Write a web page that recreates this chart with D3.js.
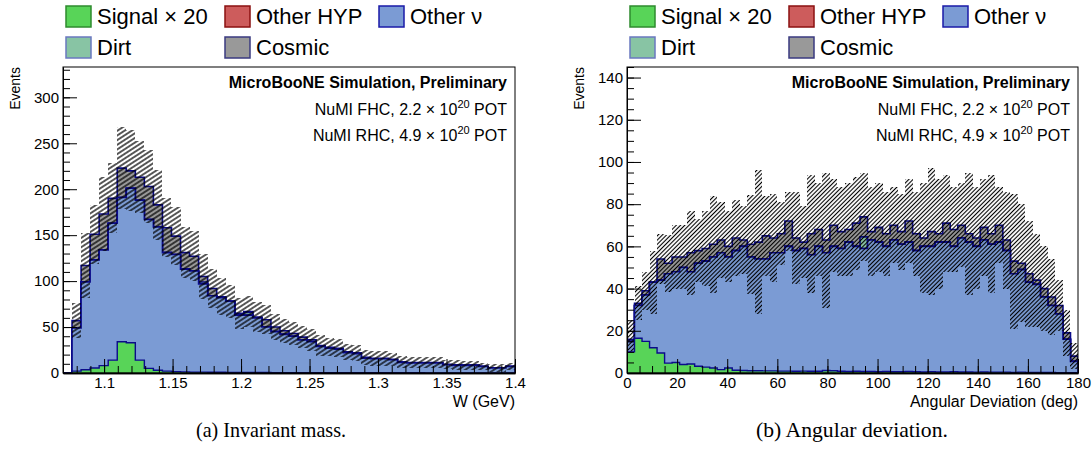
<!DOCTYPE html>
<html>
<head>
<meta charset="utf-8">
<script src="https://cdn.jsdelivr.net/npm/d3@7"></script>
<style>
  body { margin: 0; background: #fff; }
  svg { display: block; }
  text { font-family: "Liberation Sans", Arial, Helvetica, sans-serif; fill: #000; }
</style>
</head>
<body>
<svg id="chart" width="1092" height="454"></svg>
<script>
// ---------- data ----------
// (a) invariant mass W, 50 bins from 1.07 to 1.40 GeV
const wRange = [1.07, 1.4];
const wSignalX20 = [0, 2, 3.5, 5.5, 8, 14, 34, 33, 14, 5, 3, 2, 1.5, 1.2, 1, 1, 0.8, 0.8, 0.7, 0.6, 0.6, 0.5, 0.5, 0.4, 0.4, 0.3, 0.3, 0.3, 0.3, 0.3, 0.2, 0.2, 0.2, 0.2, 0.2, 0.2, 0.2, 0.2, 0.2, 0.2, 0.1, 0.1, 0.1, 0.1, 0.1, 0.1, 0.1, 0.1, 0.1, 0.1];
const wOtherNu = [0, 49, 99, 123, 134, 163, 191, 201, 188, 167, 159, 131, 129, 113, 111, 97, 84, 82, 78, 63, 63, 60, 50, 45, 42, 40, 36, 34, 29, 27, 26, 22, 21, 16, 15.5, 15.5, 14.5, 11.6, 11, 11, 11, 11, 9, 8.3, 8.3, 8.3, 7, 5.4, 5.4, 7];
const wOtherHyp = [0, 0, 0, 0, 0, 0, 0, 0, 0, 0, 0, 0, 0, 0, 0, 0, 0, 0, 0, 0, 0, 0, 0, 0, 0, 0, 0, 0, 0, 0, 0, 0, 0, 0, 0, 0, 0, 0, 0, 0, 0, 0, 0, 0, 0, 0, 0, 0, 0, 0];
const wDirt = [0, 0, 0, 0, 0, 0, 0, 0, 0, 0, 0, 0, 0, 0, 0, 2, 0, 0, 0, 0, 3, 0, 0, 0, 0, 0, 0, 0, 0, 0, 0, 0, 0, 0, 0, 0, 0, 0, 0, 0, 0, 0, 0, 0, 0, 0, 0, 0, 0, 0];
const wCosmic = [0, 8, 18, 28, 39, 27, 32, 19, 25, 36, 24, 27, 20, 18, 16, 6, 8, 1, 0, 2, 1, 1, 8, 5, 4, 3, 3, 2, 1, 1, 1, 1, 1, 1, 0.5, 0.5, 0.5, 0.4, 0.5, 0.5, 0.5, 0.5, 0.5, 0.5, 0.3, 0.3, 0.3, 0.2, 0.2, 0.2];
const wErr = [0, 19, 35, 32, 40, 38, 45, 44, 39, 40, 38, 32, 32, 28, 27, 24, 21, 20, 18, 17, 17, 16, 16, 14, 13, 13, 12, 12, 11, 10, 10, 9, 9, 8, 8, 8, 7, 7, 6, 6, 6, 6, 5, 5, 5, 5, 4, 4, 4, 4];
const wTicksX = [1.1, 1.15, 1.2, 1.25, 1.3, 1.35, 1.4];
const wTicksY = [0, 50, 100, 150, 200, 250, 300];

// (b) angular deviation, 60 bins from 0 to 180 deg
const aRange = [0, 180];
const aSignalX20 = [10, 16.5, 15, 12, 9.5, 4.7, 5, 4, 4.3, 3.2, 2.8, 2.4, 1.6, 2.4, 1.3, 1.2, 1.1, 1.1, 1, 1, 0.9, 0.9, 0.8, 0.9, 0.8, 0.8, 1.2, 1.1, 0.8, 0.7, 0.8, 0.7, 0.7, 0.6, 0.7, 0.6, 0.6, 0.7, 0.6, 0.5, 0.6, 0.5, 0.5, 0.6, 0.5, 0.5, 0.4, 0.5, 0.4, 0.4, 0.4, 0.3, 0.4, 0.3, 0.3, 0.3, 0.3, 0.2, 0.2, 0.2];
const aOtherNu = [15, 32, 37, 43, 44, 47, 48, 50, 48, 52, 53, 55, 57, 55, 58, 60, 55, 54, 54, 57, 57, 60, 58, 59, 56, 60, 57, 60, 59, 62, 60, 59, 63, 62, 60, 63, 61, 62, 58, 60, 60, 62, 62, 60, 64, 62, 60, 63, 61, 62, 58, 47, 49, 43, 42, 36, 32, 28, 16, 5.5];
const aOtherHyp = [0, 0, 0, 0, 0, 0, 0, 0, 0, 0, 0, 0, 0, 0, 0, 0, 0, 0, 0, 0, 0, 0, 0, 0, 0, 0, 0, 0, 0, 0, 0, 0, 0, 0, 0, 0, 0, 0, 0, 0, 0, 0, 0, 0, 0, 0, 0, 0, 0, 0, 0, 0, 0, 0, 0, 0, 0, 0, 0, 0];
const aDirt = [0, 0, 0, 0, 0, 0, 0, 0, 0, 0, 0, 0, 0, 0, 0, 0, 0, 0, 0, 0, 0, 0, 0, 0, 0, 0, 0, 0, 0, 0, 0, 5.5, 0, 0, 0, 0, 0, 0, 0, 0, 0, 0, 0, 0, 0, 0, 0, 0, 0, 0, 0, 0, 0, 0, 0, 0, 0, 0, 0, 0];
const aCosmic = [1, 1, 2, 0, 10, 5, 7, 5, 9, 6, 6, 6, 6, 5, 6, 3, 6, 8, 11, 7, 9, 12, 6, 3, 10, 8, 6, 10, 8, 6, 11, 9.5, 4, 7, 6, 7, 6, 10, 8, 4, 7, 4, 9, 8, 6, 4, 4, 6, 5, 8, 5, 6, 3, 4, 2, 4, 4, 4, 3, 2.5];
const aErr = [9, 8, 9, 15, 12, 13.5, 15, 15, 20, 15, 18, 23, 18, 17, 18, 16, 23.5, 34, 19, 21, 15, 14, 22, 17, 28, 22, 32, 22, 21, 22, 22, 21, 21, 21, 20, 18, 18, 20, 20, 26, 30, 26, 23, 20, 20, 29, 24, 23, 28, 18, 23, 32, 28, 25, 22, 20, 18, 12, 11, 6];
const aTicksX = [0, 20, 40, 60, 80, 100, 120, 140, 160, 180];
const aTicksY = [0, 20, 40, 60, 80, 100, 120, 140];

const legendItems = [
  { label: "Signal \u00d7 20", fill: "#58d458", stroke: "#2e8b2e", col: 0, row: 0 },
  { label: "Other HYP", fill: "#cd5c5c", stroke: "#8b1010", col: 1, row: 0 },
  { label: "Other \u03bd", fill: "#7b9bd4", stroke: "#1a1aa8", col: 2, row: 0 },
  { label: "Dirt", fill: "#88c4a4", stroke: "#6a78c0", col: 0, row: 1 },
  { label: "Cosmic", fill: "#999999", stroke: "#3a3a80", col: 1, row: 1 }
];

const colors = {
  signal: "#58d458",
  hyp: "#cd5c5c",
  nu: "#7b9bd4",
  dirt: "#88c4a4",
  cosmic: "#999999",
  line: "#0b0b8a"
};

const svg = d3.select("#chart");
const defs = svg.append("defs");

function makeHatch(id, angle, gap, sw) {
  const p = defs.append("pattern")
    .attr("id", id)
    .attr("patternUnits", "userSpaceOnUse")
    .attr("width", 12)
    .attr("height", gap)
    .attr("patternTransform", "rotate(" + angle + ")");
  p.append("line")
    .attr("x1", 0).attr("x2", 12)
    .attr("y1", gap / 2).attr("y2", gap / 2)
    .attr("stroke", "#000").attr("stroke-width", sw);
}
makeHatch("hatchA", -33, 3.9, 1.3);
makeHatch("hatchB", -45, 3.0, 1.1);

// shrink/grow a text element's font so it spans the wanted width
function fitWidth(sel, target) {
  const node = sel.node();
  const fs = +sel.attr("font-size");
  const w = node.getComputedTextLength();
  if (w > 0) sel.attr("font-size", (fs * target / w).toFixed(2));
}

function drawPanel(cfg) {
  const n = cfg.otherNu.length;
  const binW = (cfg.range[1] - cfg.range[0]) / n;
  const edges = d3.range(n + 1).map(i => cfg.range[0] + i * binW);

  const x = d3.scaleLinear().domain(cfg.xDomain).range([cfg.left, cfg.right]);
  const y = d3.scaleLinear().domain([0, cfg.yMax]).range([cfg.bottom, cfg.top]);

  const g = svg.append("g");
  const clipId = "clip-" + cfg.id;
  defs.append("clipPath").attr("id", clipId)
    .append("rect")
    .attr("x", cfg.left).attr("y", cfg.top)
    .attr("width", cfg.right - cfg.left).attr("height", cfg.bottom - cfg.top);

  const plot = g.append("g").attr("clip-path", "url(#" + clipId + ")");

  // cumulative stack: other nu -> other hyp -> dirt -> cosmic
  const layers = [cfg.otherNu, cfg.otherHyp, cfg.dirt, cfg.cosmic];
  const layerColors = [colors.nu, colors.hyp, colors.dirt, colors.cosmic];
  const cum = [];
  let run = new Array(n).fill(0);
  layers.forEach(l => {
    run = run.map((v, i) => v + l[i]);
    cum.push(run.slice());
  });
  const total = cum[cum.length - 1];

  const stepArea = d3.area()
    .x(d => x(d.x)).y0(d => y(d.y0)).y1(d => y(d.y1));
  const stepLine = d3.line().x(d => x(d.x)).y(d => y(d.y));

  function areaPts(lo, hi) {
    const pts = [];
    for (let i = 0; i < n; i++) {
      pts.push({ x: edges[i], y0: lo[i], y1: hi[i] });
      pts.push({ x: edges[i + 1], y0: lo[i], y1: hi[i] });
    }
    return pts;
  }
  function linePts(v) {
    const pts = [{ x: edges[0], y: 0 }];
    for (let i = 0; i < n; i++) {
      pts.push({ x: edges[i], y: v[i] });
      pts.push({ x: edges[i + 1], y: v[i] });
    }
    pts.push({ x: edges[n], y: 0 });
    return pts;
  }
  const zeros = new Array(n).fill(0);

  // draw like THStack: biggest cumulative first
  for (let k = cum.length - 1; k >= 0; k--) {
    plot.append("path")
      .attr("d", stepArea(areaPts(zeros, cum[k])))
      .attr("fill", layerColors[k]);
    plot.append("path")
      .attr("d", stepLine(linePts(cum[k])))
      .attr("fill", "none")
      .attr("stroke", colors.line)
      .attr("stroke-width", 1.6);
  }

  // uncertainty band
  const lo = total.map((v, i) => Math.max(0, v - cfg.err[i]));
  const hi = total.map((v, i) => v + cfg.err[i]);
  plot.append("path")
    .attr("d", stepArea(areaPts(lo, hi)))
    .attr("fill", "url(#" + cfg.hatch + ")")
    .attr("shape-rendering", "crispEdges");

  // signal x20 overlay
  plot.append("path")
    .attr("d", stepArea(areaPts(zeros, cfg.signal)))
    .attr("fill", colors.signal);
  plot.append("path")
    .attr("d", stepLine(linePts(cfg.signal)))
    .attr("fill", "none")
    .attr("stroke", colors.line)
    .attr("stroke-width", 1.4);

  // frame
  g.append("rect")
    .attr("x", cfg.left).attr("y", cfg.top)
    .attr("width", cfg.right - cfg.left).attr("height", cfg.bottom - cfg.top)
    .attr("fill", "none").attr("stroke", "#000").attr("stroke-width", 1);

  // axes (ticks pointing inward)
  const xMinor = d3.range(Math.ceil(cfg.xDomain[0] / cfg.xMinor - 1e-6), Math.floor(cfg.xDomain[1] / cfg.xMinor + 1e-6) + 1)
    .map(i => +(i * cfg.xMinor).toFixed(4));
  const yMinor = d3.range(0, Math.floor(cfg.yMax / cfg.yMinor) + 1).map(i => i * cfg.yMinor);

  const xAxisMinor = d3.axisBottom(x).tickValues(xMinor).tickSize(-7).tickSizeOuter(0).tickFormat("");
  const xAxis = d3.axisBottom(x).tickValues(cfg.xTicks).tickSize(-14).tickSizeOuter(0)
    .tickPadding(4).tickFormat(cfg.xFormat);
  const yAxisMinor = d3.axisLeft(y).tickValues(yMinor).tickSize(-7).tickSizeOuter(0).tickFormat("");
  const yAxis = d3.axisLeft(y).tickValues(cfg.yTicks).tickSize(-14).tickSizeOuter(0)
    .tickPadding(4).tickFormat(d3.format("d"));

  [xAxisMinor, xAxis].forEach(a => {
    const ag = g.append("g").attr("transform", "translate(0," + cfg.bottom + ")").call(a);
    ag.selectAll("text").attr("font-size", 15).attr("font-family", "Liberation Sans, Arial, sans-serif").attr("fill", "#111");
    ag.selectAll("line").attr("stroke", "#000");
    ag.select(".domain").attr("stroke", "#000").attr("stroke-width", 1.3);
  });
  [yAxisMinor, yAxis].forEach(a => {
    const ag = g.append("g").attr("transform", "translate(" + cfg.left + ",0)").call(a);
    ag.selectAll("text").attr("font-size", 15).attr("font-family", "Liberation Sans, Arial, sans-serif").attr("fill", "#111");
    ag.selectAll("line").attr("stroke", "#000");
    ag.select(".domain").attr("stroke", "#000").attr("stroke-width", 1);
  });

  // axis titles
  g.append("text")
    .attr("x", cfg.right).attr("y", cfg.bottom + 34)
    .attr("text-anchor", "end").attr("font-size", 16)
    .text(cfg.xTitle);
  g.append("text")
    .attr("transform", "translate(" + (cfg.left - 43) + "," + cfg.top + ") rotate(-90)")
    .attr("text-anchor", "end").attr("font-size", 14)
    .text("Events");

  // header text
  const tx = cfg.right - 8;
  g.append("text").attr("x", tx).attr("y", cfg.top + 21)
    .attr("text-anchor", "end").attr("font-size", 16).attr("font-weight", "bold")
    .text("MicroBooNE Simulation, Preliminary");
  [["NuMI FHC, 2.2 \u00d7 10", " POT", 48], ["NuMI RHC, 4.9 \u00d7 10", " POT", 74]].forEach(r => {
    const t = g.append("text").attr("x", tx).attr("y", cfg.top + r[2])
      .attr("text-anchor", "end").attr("font-size", 16);
    t.append("tspan").text(r[0]);
    t.append("tspan").attr("font-size", 11).attr("dy", -7).text("20");
    t.append("tspan").attr("dy", 7).text(r[1]);
  });

  // legend above the frame
  const lg = g.append("g");
  const colX = [0, 159, 313];
  legendItems.forEach(it => {
    const bx = cfg.left + 3 + colX[it.col];
    const by = 6 + it.row * 31;
    lg.append("rect")
      .attr("x", bx).attr("y", by).attr("width", 25).attr("height", 21)
      .attr("fill", it.fill).attr("stroke", it.stroke).attr("stroke-width", 1.5);
    lg.append("text")
      .attr("x", bx + 31).attr("y", by + 18)
      .attr("font-size", 22)
      .text(it.label);
  });

  // caption
  const cap = svg.append("text")
    .attr("x", cfg.captionX).attr("y", 437)
    .attr("text-anchor", "middle")
    .attr("font-size", 20)
    .style("font-family", "'Liberation Serif', 'DejaVu Serif', serif")
    .text(cfg.caption);
  fitWidth(cap, cfg.captionW);
}

drawPanel({
  id: "w", range: wRange, xDomain: [1.07, 1.4],
  otherNu: wOtherNu, otherHyp: wOtherHyp, dirt: wDirt, cosmic: wCosmic,
  err: wErr, signal: wSignalX20,
  left: 63, right: 515, top: 67, bottom: 373, yMax: 333,
  xTicks: wTicksX, yTicks: wTicksY, xMinor: 0.01, yMinor: 10,
  xFormat: d => String(+d.toFixed(2)),
  xTitle: "W (GeV)", hatch: "hatchA",
  caption: "(a) Invariant mass.", captionX: 271, captionW: 150
});

drawPanel({
  id: "a", range: aRange, xDomain: [0, 180],
  otherNu: aOtherNu, otherHyp: aOtherHyp, dirt: aDirt, cosmic: aCosmic,
  err: aErr, signal: aSignalX20,
  left: 627, right: 1078, top: 67, bottom: 373, yMax: 145,
  xTicks: aTicksX, yTicks: aTicksY, xMinor: 5, yMinor: 5,
  xFormat: d3.format("d"),
  xTitle: "Angular Deviation (deg)", hatch: "hatchB",
  caption: "(b) Angular deviation.", captionX: 852, captionW: 192
});
</script>
</body>
</html>
